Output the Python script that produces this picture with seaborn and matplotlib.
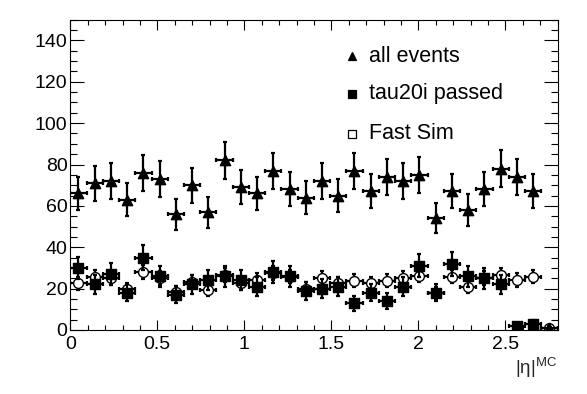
import matplotlib
matplotlib.use("Agg")
import matplotlib.pyplot as plt
from matplotlib.ticker import MultipleLocator
import numpy as np
import pandas as pd
import seaborn as sns

# 30 bins of |eta| from 0 to 2.8
eta_lo = 0.0
eta_hi = 2.8
n_bins = 30

all_events = [66, 71, 72, 63, 76, 73, 56, 70, 57, 82, 69, 66, 77, 68, 64,
              72, 65, 77, 67, 74, 72, 75, 54, 67, 58, 68, 78, 74, 67, 1]
all_err = [8.1, 8.4, 8.5, 7.9, 8.7, 8.5, 7.5, 8.4, 7.5, 9.1, 8.3, 8.1, 8.8, 8.2, 8.0,
           8.5, 8.1, 8.8, 8.2, 8.6, 8.5, 8.7, 7.3, 8.2, 7.6, 8.2, 8.8, 8.6, 8.2, 1.0]

tau_passed = [30, 22, 27, 18, 35, 26, 17, 22, 24, 26, 24, 21, 28, 26, 19,
              20, 21, 13, 18, 14, 21, 31, 18, 32, 26, 25, 22, 2, 3, np.nan]
tau_err = [5.5, 4.7, 5.2, 4.2, 5.9, 5.1, 4.1, 4.7, 4.9, 5.1, 4.9, 4.6, 5.3, 5.1, 4.4,
           4.5, 4.6, 3.6, 4.2, 3.7, 4.6, 5.6, 4.2, 5.7, 5.1, 5.0, 4.7, 1.4, 1.7, np.nan]

fast_sim = [22.6, 25.5, 25.0, 19.7, 28.2, 25.0, 18.5, 23.4, 19.4, 26.6, 22.6, 24.2, 27.4, 25.8, 20.0,
            25.0, 22.6, 23.9, 22.6, 23.9, 25.0, 26.3, 18.0, 25.8, 21.0, 25.0, 26.6, 24.2, 25.8, 1.0]
fast_err = [3.2, 3.3, 3.3, 3.0, 3.4, 3.3, 2.9, 3.2, 3.0, 3.3, 3.2, 3.2, 3.4, 3.3, 3.0,
            3.3, 3.2, 3.2, 3.2, 3.2, 3.3, 3.3, 2.9, 3.3, 3.1, 3.3, 3.3, 3.2, 3.3, 0.7]

series_names = ["Fast Sim", "tau20i passed", "all events"]

sns.set_theme(style="ticks")
plt.rcParams["font.family"] = ["Liberation Sans", "DejaVu Sans"]
plt.rcParams["mathtext.fontset"] = "custom"
plt.rcParams["mathtext.rm"] = "Liberation Sans"
plt.rcParams["mathtext.it"] = "Liberation Sans"

edges = np.linspace(eta_lo, eta_hi, n_bins + 1)
centers = 0.5 * (edges[:-1] + edges[1:])
half_w = 0.5 * (edges[1] - edges[0])

df = pd.concat([
    pd.DataFrame({"eta": centers, "n": fast_sim, "err": fast_err, "series": "Fast Sim"}),
    pd.DataFrame({"eta": centers, "n": tau_passed, "err": tau_err, "series": "tau20i passed"}),
    pd.DataFrame({"eta": centers, "n": all_events, "err": all_err, "series": "all events"}),
])

styles = {
    "Fast Sim": dict(marker="o", face="white", s=50),
    "tau20i passed": dict(marker="s", face="black", s=46),
    "all events": dict(marker="^", face="black", s=55),
}

fig = plt.figure(figsize=(5.87, 3.94), dpi=100)
ax = fig.add_axes([70.3 / 587, 1 - 330 / 394, (557.5 - 70.3) / 587, (330 - 19.7) / 394])

# draw each graph: error bars first, then markers on top
for i, name in enumerate(series_names):
    sub = df[df["series"] == name].dropna()
    st = styles[name]
    ax.errorbar(sub["eta"], sub["n"], yerr=sub["err"], xerr=half_w, fmt="none",
                ecolor="black", elinewidth=1.6, capsize=1.7, capthick=1.6, zorder=2 + 2 * i)
    sns.scatterplot(data=sub, x="eta", y="n", marker=st["marker"], color=st["face"],
                    edgecolor="black", linewidth=1.0, s=st["s"], ax=ax, zorder=3 + 2 * i,
                    legend=False)

ax.set_xlim(eta_lo, eta_hi)
ax.set_ylim(0, 150)
ax.xaxis.set_major_locator(MultipleLocator(0.5))
ax.xaxis.set_minor_locator(MultipleLocator(0.1))
ax.yaxis.set_major_locator(MultipleLocator(20))
ax.yaxis.set_minor_locator(MultipleLocator(5))
ax.set_xticklabels([f"{t:g}" for t in ax.get_xticks()])
ax.tick_params(which="both", direction="in", top=True, right=True, color="black",
               labelsize=14, labelcolor="black", width=0.8)
ax.tick_params(axis="x", which="major", length=7, pad=4)
ax.tick_params(axis="x", which="minor", length=3.6)
ax.tick_params(axis="y", which="major", length=10, pad=2)
ax.tick_params(axis="y", which="minor", length=5)
for sp in ax.spines.values():
    sp.set_color("black")
    sp.set_linewidth(0.8)
ax.set_ylabel("")
ax.set_xlabel(r"$|\eta|^{\rm MC}$", loc="right", fontsize=13.5)
ax.xaxis.set_label_coords(1.0, -0.085)

# legend drawn the ROOT way: small markers and labels in the upper right
leg_y = [0.883, 0.761, 0.632]
leg_items = [("all events", "^", "black"), ("tau20i passed", "s", "black"), ("Fast Sim", "s", "white")]
for (label, mk, fc), yy in zip(leg_items, leg_y):
    ax.plot([0.578], [yy], marker=mk, markersize=5.5, markerfacecolor=fc,
            markeredgecolor="black", markeredgewidth=0.9, linestyle="none",
            transform=ax.transAxes)
    ax.text(0.613, yy, label, transform=ax.transAxes, ha="left", va="center",
            fontsize=15.5, color="black")

fig.savefig("out.png", dpi=100, facecolor="white")
